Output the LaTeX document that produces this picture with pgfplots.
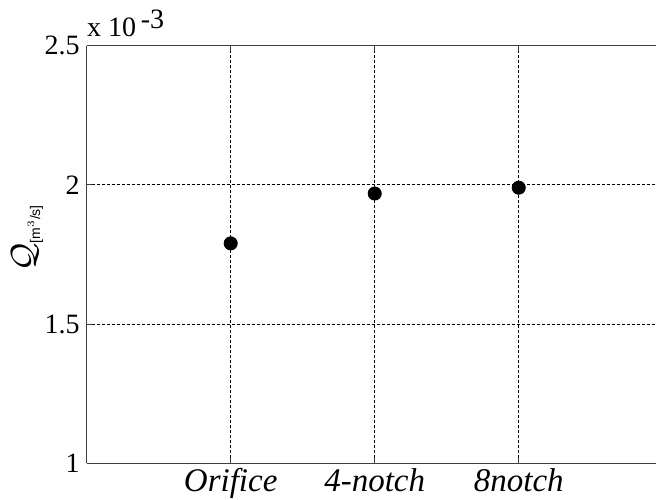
\documentclass[border=0pt]{standalone}
\usepackage{pgfplots}
\pgfplotsset{compat=1.18}
\usepackage{fontspec}
\setmainfont{Liberation Serif}
\setsansfont{Liberation Sans}
\begin{document}
\begin{tikzpicture}
\useasboundingbox (-43.35pt,-17.85pt) rectangle (284.65pt,231.65pt);
\begin{axis}[
  at={(0,0)}, anchor=south west,
  scale only axis, width=284.65pt, height=208.8pt,
  xmin=0, xmax=3.953, ymin=1, ymax=2.5,
  axis x line=box, axis y line=left,
  xtick={1,2,3}, xticklabels={Orifice,4-notch,8notch},
  ytick={1,1.5,2,2.5}, yticklabels={1,1.5,2,2.5},
  grid=major,
  major grid style={black, line width=0.5pt, dash pattern=on 1.5pt off 1pt},
  axis line style={black!75, line width=0.65pt, -},
  tick align=inside, major tick length=2.5pt,
  tick style={black!75, line width=0.5pt},
  xticklabel style={font=\fontsize{16.5}{18}\selectfont\itshape, yshift=1pt},
  yticklabel style={font=\fontsize{14}{16}\selectfont},
  ylabel={$\mathcal{Q}_{\textsf{\fontsize{7}{8}\selectfont [m$^3$/s]}}$},
  ylabel style={font=\fontsize{19}{20}\selectfont, at={(axis description cs:-0.076,0.54)}, anchor=south, inner sep=0pt},
  clip=false,
]
\addplot[only marks, mark=*, mark size=3.3pt, black] coordinates {
  (1,1.790) (2,1.969) (3,1.990)
};
\node[anchor=base west, inner sep=0pt, font=\fontsize{14}{16}\selectfont] at ([yshift=4.5pt]rel axis cs:0,1) {x 10\,\raisebox{4pt}{-3}};
\end{axis}
\end{tikzpicture}
\end{document}
